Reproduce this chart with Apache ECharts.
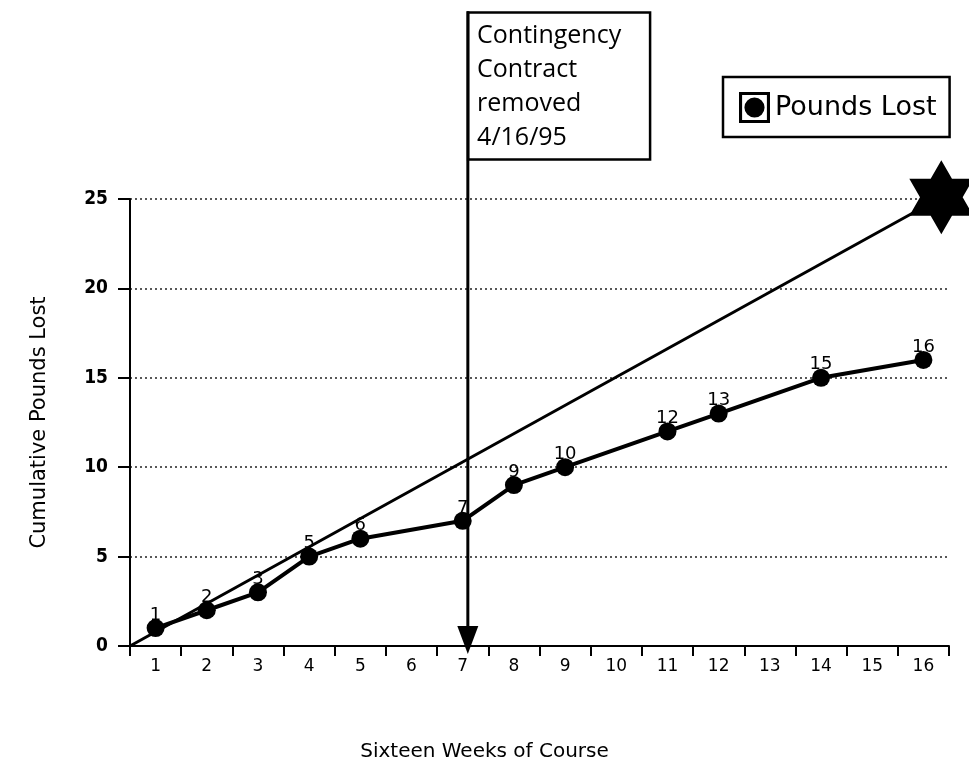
<!DOCTYPE html>
<html>
<head>
<meta charset="utf-8">
<script src="https://cdn.jsdelivr.net/npm/echarts@6/dist/echarts.min.js"></script>
<style>
html, body { margin: 0; padding: 0; background: #fff; }
#chart { width: 969px; height: 767px; }
</style>
</head>
<body>
<div id="chart"></div>
<script>
// week categories on the x axis
var weeks = ['1', '2', '3', '4', '5', '6', '7', '8', '9', '10', '11', '12', '13', '14', '15', '16']
// weeks with a weigh-in and the cumulative pounds lost
var measuredWeeks = ['1', '2', '3', '4', '5', '7', '8', '9', '11', '12', '14', '16']
var poundsLost = [1, 2, 3, 5, 6, 7, 9, 10, 12, 13, 15, 16]
// goal line (weeks on a 0..16 scale, pounds)
var goalStart = [0, 0]
var goalEnd = [15.85, 25.1]
// contract removal marker (week scale, pounds)
var contractWeek = 6.6
var contractTop = 35.5
var contractTip = 0.33

var starPath = 'path://M50,0L64.43,25L93.3,25L78.87,50L93.3,75L64.43,75L50,100L35.57,75L6.7,75L21.13,50L6.7,25L35.57,25Z'
var legendIcon = 'path://M0,0H20V20H0Z M2,2V18H18V2Z M10,3.5A6.5,6.5 0 1,1 9.99,3.5Z'

var chart = echarts.init(document.getElementById('chart'))

var option = {
  animation: false,
  backgroundColor: '#fff',
  grid: {
    left: 130,
    right: 20,
    top: 199,
    bottom: 115
  },
  legend: {
    data: ['Pounds Lost'],
    left: 723,
    top: 77,
    padding: [15, 13, 14, 16],
    borderColor: '#000',
    borderWidth: 2.5,
    itemWidth: 31,
    itemHeight: 31,
    itemGap: 8,
    icon: legendIcon,
    textStyle: {
      fontFamily: 'DejaVu Sans',
      fontSize: 27,
      color: '#000'
    }
  },
  xAxis: [
    {
      type: 'category',
      data: weeks,
      boundaryGap: true,
      name: 'Sixteen Weeks of Course',
      nameLocation: 'middle',
      nameGap: 96,
      nameTextStyle: {
        fontFamily: 'DejaVu Sans',
        fontSize: 20,
        color: '#000',
        padding: [0, 110, 0, 0]
      },
      axisLine: { lineStyle: { color: '#000', width: 2 } },
      axisTick: { show: true, length: 10, lineStyle: { color: '#000', width: 2 } },
      axisLabel: {
        margin: 12,
        fontFamily: 'DejaVu Sans',
        fontSize: 17,
        color: '#000'
      },
      splitLine: { show: false }
    },
    {
      type: 'value',
      min: 0,
      max: 16,
      show: false
    }
  ],
  yAxis: {
    type: 'value',
    min: 0,
    max: 25,
    interval: 5,
    name: 'Cumulative Pounds Lost',
    nameLocation: 'middle',
    nameGap: 80,
    nameRotate: 90,
    nameTextStyle: {
      fontFamily: 'DejaVu Sans',
      fontSize: 21,
      color: '#000'
    },
    axisLine: { show: true, lineStyle: { color: '#000', width: 2 } },
    axisTick: { show: true, inside: false, length: 12, lineStyle: { color: '#000', width: 2 } },
    axisLabel: {
      margin: 22,
      fontFamily: 'DejaVu Sans Condensed, DejaVu Sans',
      fontWeight: 'bold',
      fontSize: 19,
      color: '#000'
    },
    splitLine: {
      show: true,
      lineStyle: { color: '#222', width: 1.5, type: [2, 3] }
    }
  },
  series: [
    {
      name: 'Pounds Lost',
      type: 'line',
      data: measuredWeeks.map(function (w, i) { return [w, poundsLost[i]] }),
      symbol: 'circle',
      symbolSize: 18,
      itemStyle: { color: '#000' },
      lineStyle: { color: '#000', width: 4 },
      label: {
        show: true,
        position: 'top',
        distance: -5,
        fontFamily: 'DejaVu Sans',
        fontSize: 18,
        color: '#000',
        formatter: function (p) { return p.value[1] }
      },
      z: 4
    },
    {
      name: 'Goal',
      type: 'line',
      xAxisIndex: 1,
      clip: false,
      silent: true,
      showSymbol: true,
      data: [
        { value: goalStart, symbol: 'none' },
        { value: goalEnd, symbol: starPath, symbolSize: [64, 74] }
      ],
      itemStyle: { color: '#000' },
      lineStyle: { color: '#000', width: 3 },
      z: 3
    },
    {
      name: 'Contract',
      type: 'line',
      xAxisIndex: 1,
      clip: false,
      silent: true,
      showSymbol: true,
      data: [
        { value: [contractWeek, contractTop], symbol: 'none' },
        { value: [contractWeek, contractTip], symbol: 'triangle', symbolSize: [21, 28], symbolRotate: 180 }
      ],
      itemStyle: { color: '#000' },
      lineStyle: { color: '#000', width: 3 },
      z: 3
    }
  ]
}

chart.setOption(option)

// annotation box hanging from the contract line
var boxAnchor = chart.convertToPixel({ xAxisIndex: 1, yAxisIndex: 0 }, [contractWeek, contractTop])
chart.setOption({
  graphic: [
    {
      type: 'group',
      left: boxAnchor[0] - 1,
      top: boxAnchor[1],
      children: [
        {
          type: 'rect',
          shape: { x: 0, y: 0, width: 182, height: 147 },
          style: { fill: '#fff', stroke: '#000', lineWidth: 2.5 }
        },
        {
          type: 'text',
          x: 9,
          y: 6,
          style: {
            text: 'Contingency\nContract\nremoved\n4/16/95',
            fontFamily: 'Open Sans',
            fontSize: 25,
            lineHeight: 34,
            fill: '#000'
          }
        }
      ]
    }
  ]
})
</script>
</body>
</html>
